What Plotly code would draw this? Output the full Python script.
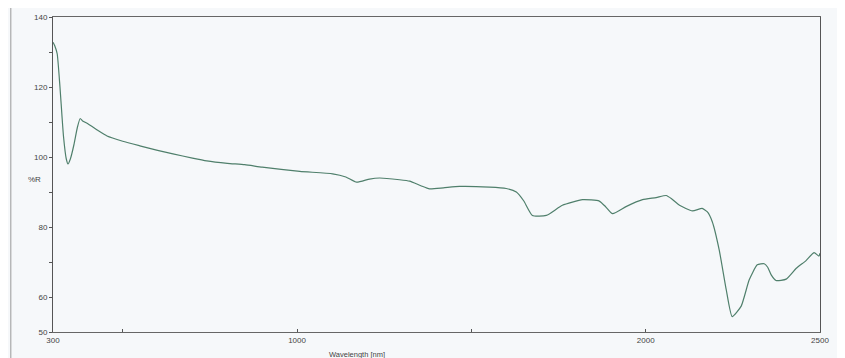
import plotly.graph_objects as go

wavelength_nm = [300, 305, 312, 320, 330, 338, 343, 350, 360, 370, 378, 385, 400, 430, 455,
                 500, 549, 600, 644, 700, 741, 800, 850, 900, 1008, 1102, 1140, 1171, 1208,
                 1237, 1294, 1323, 1355, 1380, 1420, 1466, 1552, 1600, 1629, 1650, 1675, 1715,
                 1761, 1819, 1867, 1885, 1905, 1945, 1991, 2030, 2059, 2075, 2097, 2134, 2162,
                 2177, 2191, 2211, 2231, 2248, 2274, 2297, 2320, 2340, 2350, 2360, 2374, 2403,
                 2432, 2460, 2483, 2497, 2500]
reflectance_pct = [132.8, 131.8, 129.5, 120.0, 106.0, 99.5, 98.0, 99.5, 103.5, 108.5, 111.0, 110.3,
                   109.5, 107.5, 106.0, 104.5, 103.2, 101.9, 100.9, 99.7, 98.9, 98.2, 97.8, 97.1,
                   95.9, 95.2, 94.3, 92.8, 93.7, 94.0, 93.5, 93.1, 91.8, 90.9, 91.2, 91.6, 91.4,
                   91.0, 90.0, 87.5, 83.3, 83.3, 86.2, 87.8, 87.4, 85.8, 83.8, 85.9, 87.8, 88.4,
                   89.0, 88.0, 86.2, 84.6, 85.3, 84.3, 81.5, 73.4, 62.1, 54.4, 57.4, 64.9, 69.2,
                   69.5, 68.5, 66.3, 64.7, 65.1, 68.2, 70.4, 72.7, 71.7, 72.5]

x_tickvals = [300, 500, 1000, 1500, 2000, 2500]
x_ticktext = ["300", "", "1000", "", "2000", "2500"]
y_tickvals = [50, 60, 70, 80, 90, 100, 110, 120, 130, 140]
y_ticktext = ["50", "60", "", "80", "", "100", "", "120", "", "140"]

bg = "#f6f8fa"
fig = go.Figure()
fig.add_trace(go.Scatter(x=wavelength_nm, y=reflectance_pct, mode="lines",
                         line=dict(color="#4f7f6b", width=1.2, shape="spline", smoothing=0.5),
                         hoverinfo="skip", showlegend=False))

axis_font = dict(family="Liberation Sans, Arial, sans-serif", size=8, color="#444")
fig.update_layout(
    width=845, height=358,
    margin=dict(l=45, r=33, t=5, b=34),
    paper_bgcolor=bg, plot_bgcolor=bg,
    xaxis=dict(range=[300, 2500], tickmode="array", tickvals=x_tickvals, ticktext=x_ticktext,
               ticks="inside", ticklen=3, tickcolor="#555", showgrid=False, zeroline=False,
               showline=True, linecolor="#666", linewidth=1, mirror=True,
               tickfont=axis_font),
    yaxis=dict(range=[50, 140], tickmode="array", tickvals=y_tickvals, ticktext=y_ticktext,
               ticks="outside", ticklen=3, tickcolor="#555", showgrid=False, zeroline=False,
               showline=True, linecolor="#555", linewidth=1, mirror=True,
               tickfont=axis_font),
    annotations=[
        dict(text="%R", xref="paper", yref="paper", x=-0.035, y=0.483, showarrow=False,
             font=dict(family="Liberation Sans, Arial, sans-serif", size=8, color="#444")),
        dict(text="Wavelength [nm]", xref="paper", yref="paper", x=0.396, y=-0.05,
             yanchor="top", showarrow=False,
             font=dict(family="Liberation Sans, Arial, sans-serif", size=7.5, color="#444")),
    ],
    shapes=[dict(type="line", xref="paper", yref="paper", x0=-0.055, x1=-0.055,
                 y0=-0.09, y1=1.05, line=dict(color="#999", width=1))],
)
fig.write_html("out.html")
